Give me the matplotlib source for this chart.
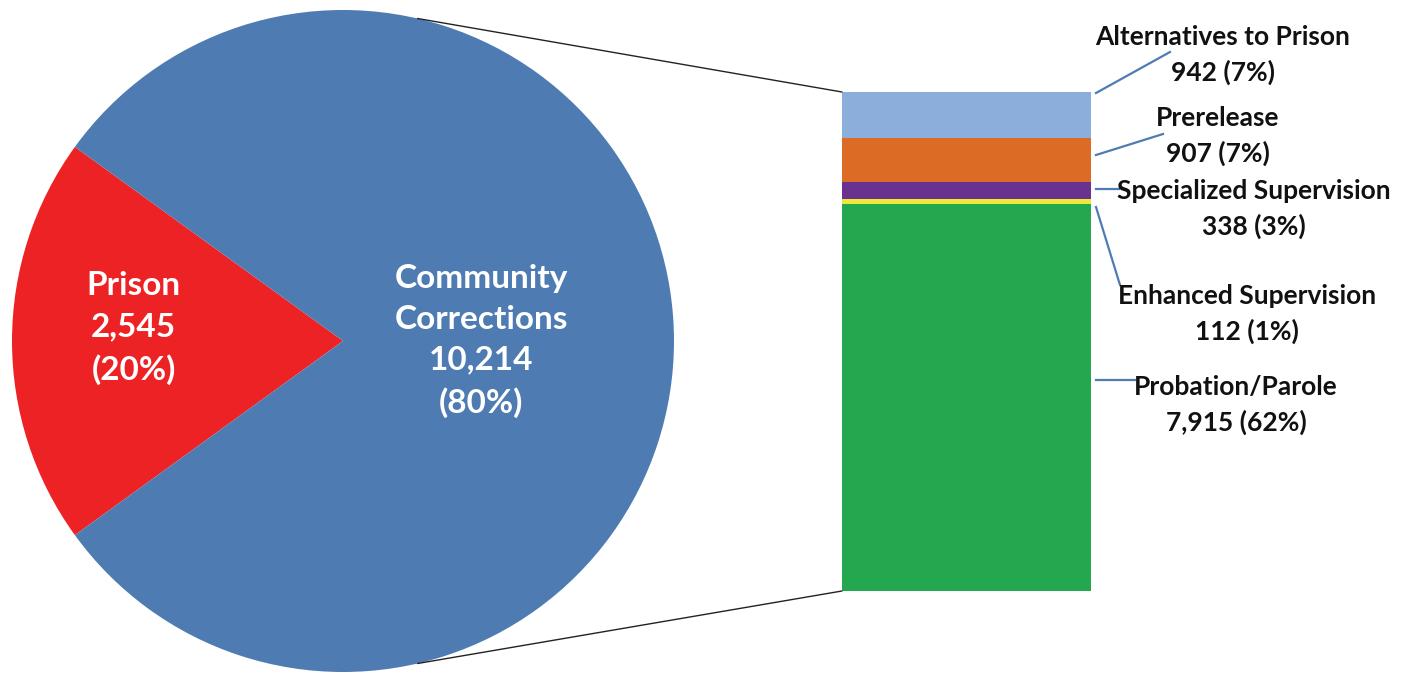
import matplotlib
matplotlib.use("Agg")
import matplotlib.pyplot as plt
from matplotlib.patches import ConnectionPatch
import numpy as np

plt.rcParams['font.family'] = ['Lato', 'DejaVu Sans']

# totals shown in the pie
pie_labels = ['Prison', 'Community\nCorrections']
pie_values = [2545, 10214]
pie_pcts = ['20%', '80%']

# breakdown of community corrections, bottom to top
bar_labels = ['Probation/Parole', 'Enhanced Supervision', 'Specialized Supervision',
              'Prerelease', 'Alternatives to Prison']
bar_values = [7915, 112, 338, 907, 942]
bar_pcts = ['62%', '1%', '3%', '7%', '7%']

pie_colors = ['#ED2224', '#4E7CB2']
bar_colors = ['#23A850', '#EEE83A', '#693190', '#DB6B25', '#8CAEDB']
line_blue = '#4E7CB2'

W, H = 1408, 674
fig = plt.figure(figsize=(W / 100, H / 100), dpi=100)

# pie on the left
cx, cy, r = 343, 341, 331
ax_pie = fig.add_axes([(cx - r) / W, (H - cy - r) / H, 2 * r / W, 2 * r / H])
start = 180 - 360 * pie_values[0] / sum(pie_values) / 2
ax_pie.pie(pie_values, colors=pie_colors, startangle=start, counterclock=True,
           radius=1, wedgeprops=dict(linewidth=0))
ax_pie.set_xlim(-1, 1)
ax_pie.set_ylim(-1, 1)
ax_pie.set_aspect('equal')
ax_pie.axis('off')

pie_text_pos = [(-0.632, 0.04), (0.418, 0.0)]
for lab, v, p, (tx, ty) in zip(pie_labels, pie_values, pie_pcts, pie_text_pos):
    ax_pie.text(tx, ty, f'{lab}\n{v:,}\n({p})', ha='center', va='center',
                color='white', fontsize=24, fontweight='bold', linespacing=1.5)

# stacked bar on the right
bx0, bx1, by0, by1 = 842, 1091, 92, 591
ax_bar = fig.add_axes([bx0 / W, (H - by1) / H, (bx1 - bx0) / W, (by1 - by0) / H])
bottom = 0
for v, c in zip(bar_values, bar_colors):
    ax_bar.bar(0, v, bottom=bottom, width=1, color=c, linewidth=0)
    bottom += v
ax_bar.set_xlim(-0.5, 0.5)
ax_bar.set_ylim(0, sum(bar_values))
ax_bar.axis('off')

# connector lines from the pie edge to the bar corners
ang = np.radians(77)
for sgn, yb in [(1, sum(bar_values)), (-1, 0)]:
    con = ConnectionPatch(xyA=(np.cos(ang), sgn * np.sin(ang)), coordsA=ax_pie.transData,
                          xyB=(-0.5, yb), coordsB=ax_bar.transData,
                          color='#222222', linewidth=1.0)
    fig.add_artist(con)

# overlay in pixel coordinates for the right-hand labels
ax_over = fig.add_axes([0, 0, 1, 1])
ax_over.set_xlim(0, W)
ax_over.set_ylim(H, 0)
ax_over.axis('off')

# (label centre x, first line y, leader start y, leader end x, leader end y)
label_layout = [
    (1236, 387, 380, 1135, 380),
    (1247, 296, 207, 1120, 285),
    (1254, 191, 189, 1119, 189),
    (1218, 118, 155, 1163, 134),
    (1223, 37, 93, 1170, 52),
]
for lab, v, p, (lx, ly, sy, ex, ey) in zip(bar_labels, bar_values, bar_pcts, label_layout):
    ax_over.text(lx, ly, lab, ha='center', va='center', color='#111111',
                 fontsize=19, fontweight='bold')
    ax_over.text(lx, ly + 35, f'{v:,} ({p})', ha='center', va='center', color='#111111',
                 fontsize=19, fontweight='bold')
    ax_over.plot([1096, ex], [sy, ey], color=line_blue, linewidth=1.6)

fig.savefig('out.png', dpi=100, facecolor='white')
